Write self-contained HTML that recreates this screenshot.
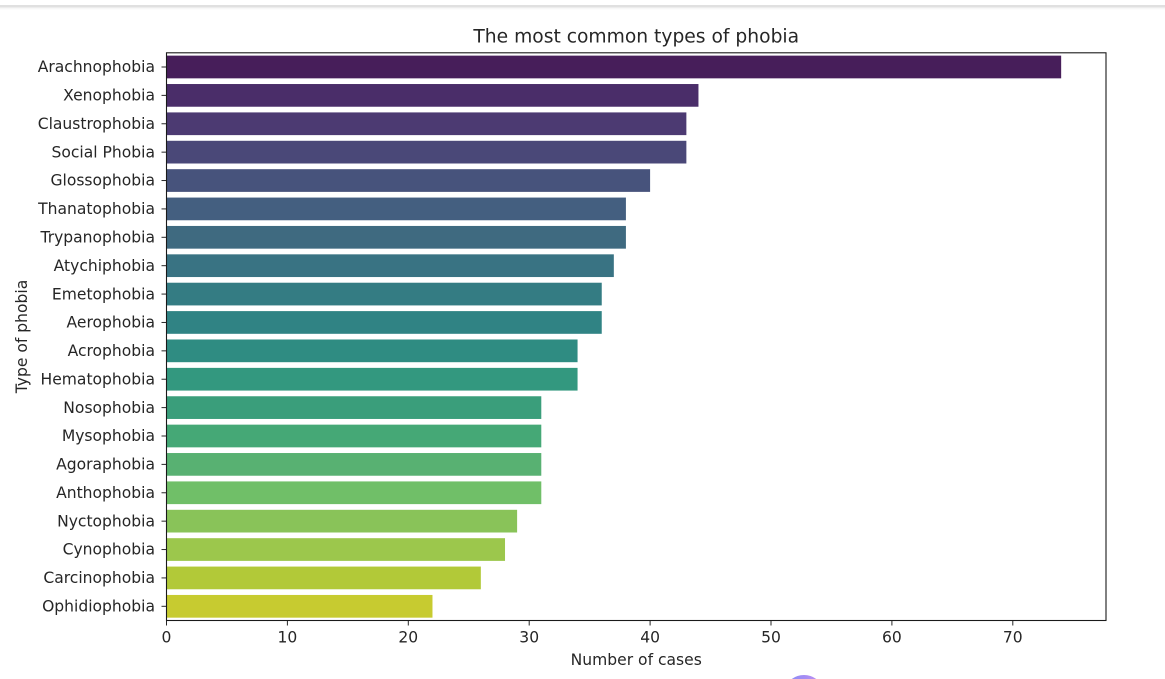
<!DOCTYPE html>
<html lang="en">
<head>
<meta charset="utf-8">
<title>The most common types of phobia</title>
<style>
html,body{margin:0;padding:0;background:#fff;width:1165px;height:679px;overflow:hidden}
svg{display:block;filter:blur(0.3px)}
text{font-family:"DejaVu Sans","Liberation Sans",sans-serif;fill:#262626}
</style>
</head>
<body>
<svg id="chart" xmlns="http://www.w3.org/2000/svg" width="1165" height="679" viewBox="0 0 1165 679">
  <defs>
    <linearGradient id="orb" x1="0" y1="0" x2="1" y2="0">
      <stop offset="0" stop-color="#8f8cf5"/>
      <stop offset="1" stop-color="#b98ef2"/>
    </linearGradient>
    <linearGradient id="shadow" x1="0" y1="0" x2="0" y2="1">
      <stop offset="0" stop-color="#f0f0f0"/>
      <stop offset="1" stop-color="#ffffff"/>
    </linearGradient>
  </defs>
  <rect x="0" y="7" width="1165" height="3" fill="url(#shadow)"/>
  <rect x="0" y="5" width="1165" height="2.4" fill="#e0e0e0"/>
  <path d="M791.7 679 A21 21 0 0 1 816.3 679 Z" fill="url(#orb)"/>
  <g id="bars"></g>
  <g id="axes"></g>
</svg>
<script>
const categories = ["Arachnophobia","Xenophobia","Claustrophobia","Social Phobia","Glossophobia","Thanatophobia","Trypanophobia","Atychiphobia","Emetophobia","Aerophobia","Acrophobia","Hematophobia","Nosophobia","Mysophobia","Agoraphobia","Anthophobia","Nyctophobia","Cynophobia","Carcinophobia","Ophidiophobia"];
const caseCounts = [74,44,43,43,40,38,38,37,36,36,34,34,31,31,31,31,29,28,26,22];
const xTickValues = [0,10,20,30,40,50,60,70];
const barPalette = ["#471e5a","#4a2d69","#4c3a72","#4a4878","#47537c","#445f80","#3f6a80","#397383","#347c83","#308384","#2f8c82","#33987f","#3a9e7b","#45a876","#58b172","#70bf68","#89c359","#9cc74c","#b2c938","#c7cb30"];

const svgNS = "http://www.w3.org/2000/svg";
const plot = { left: 166.5, right: 1106, top: 52.8, bottom: 620.5 };
const pxPerUnit = 12.09;
const xMax = (plot.right - plot.left) / pxPerUnit;

function xScale(v) { return plot.left + (v / xMax) * (plot.right - plot.left); }
function bandStep() { return (plot.bottom - plot.top) / categories.length; }
function yCenter(i) { return plot.top + (i + 0.5) * bandStep(); }

function make(tag, attrs, text) {
  const el = document.createElementNS(svgNS, tag);
  Object.keys(attrs).forEach(function (k) { el.setAttribute(k, attrs[k]); });
  if (text !== undefined) el.textContent = text;
  return el;
}

const barsGroup = document.getElementById("bars");
const axesGroup = document.getElementById("axes");
const barHeight = bandStep() * 0.8;

categories.forEach(function (name, i) {
  const bar = make("rect", {
    x: xScale(0),
    y: yCenter(i) - barHeight / 2,
    width: xScale(caseCounts[i]) - xScale(0),
    height: barHeight,
    fill: barPalette[i % barPalette.length]
  });
  
  
  barsGroup.appendChild(bar);

  const tick = make("line", {
    x1: plot.left - 5, x2: plot.left,
    y1: yCenter(i), y2: yCenter(i),
    stroke: "#262626", "stroke-width": 1
  });
  
  
  axesGroup.appendChild(tick);

  const label = make("text", {
    x: plot.left - 11.5,
    y: yCenter(i) + 5.2,
    "text-anchor": "end",
    "font-size": "15.55"
  }, name);
  
  
  axesGroup.appendChild(label);
});

xTickValues.forEach(function (v) {
  const tick = make("line", {
    x1: xScale(v), x2: xScale(v),
    y1: plot.bottom, y2: plot.bottom + 5,
    stroke: "#262626", "stroke-width": 1
  });
  
  
  axesGroup.appendChild(tick);

  const label = make("text", {
    x: xScale(v),
    y: plot.bottom + 22,
    "text-anchor": "middle",
    "font-size": "15.55"
  }, String(v));
  
  
  axesGroup.appendChild(label);
});

const frame = make("rect", {
  x: plot.left, y: plot.top,
  width: plot.right - plot.left,
  height: plot.bottom - plot.top,
  fill: "none", stroke: "#1a1a1a", "stroke-width": 1.1
});


axesGroup.appendChild(frame);

const title = make("text", {
  x: (plot.left + plot.right) / 2,
  y: 42.5,
  "text-anchor": "middle",
  "font-size": "18.7"
}, "The most common types of phobia");


axesGroup.appendChild(title);

const xTitle = make("text", {
  x: (plot.left + plot.right) / 2,
  y: 665,
  "text-anchor": "middle",
  "font-size": "15.55"
}, "Number of cases");


axesGroup.appendChild(xTitle);

const yTitle = make("text", {
  x: 0, y: 0,
  transform: "translate(27 336.5) rotate(-90)",
  "text-anchor": "middle",
  "font-size": "15.55"
}, "Type of phobia");


axesGroup.appendChild(yTitle);
</script>
</body>
</html>
